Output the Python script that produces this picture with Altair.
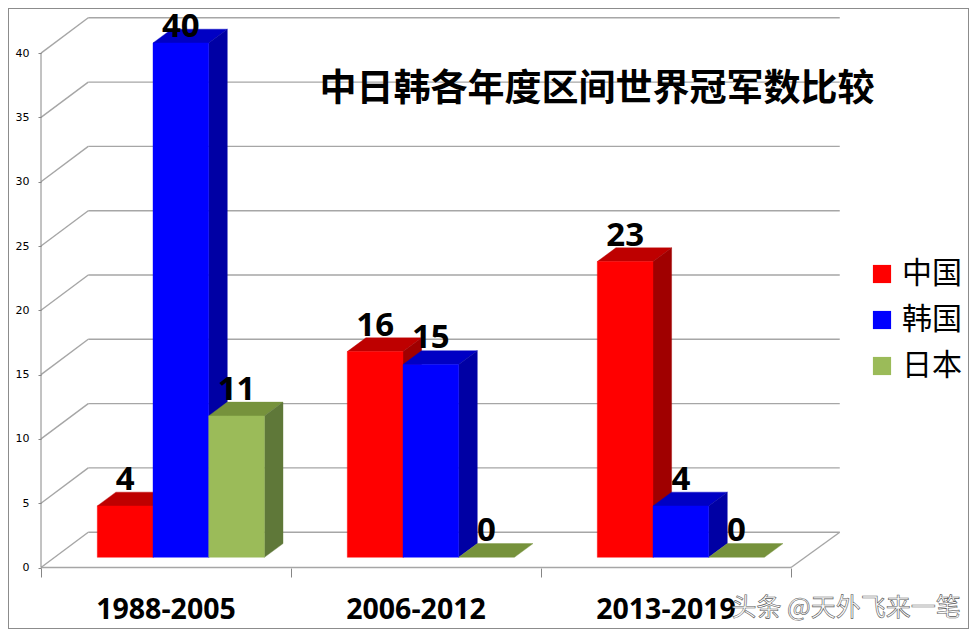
import altair as alt
import pandas as pd

# --- values ---
periods = ["1988-2005", "2006-2012", "2013-2019"]
series = ["中国", "韩国", "日本"]
china = [4, 16, 23]
korea = [40, 15, 4]
japan = [11, 0, 0]
y_ticks = [0, 5, 10, 15, 20, 25, 30, 35, 40]
x_ticks = [0, 1, 2, 3]
title_text = "中日韩各年度区间世界冠军数比较"
watermark = "头条 @天外飞来一笔"

front_colors = ["#FF0000", "#0000FF", "#9BBB59"]
top_colors = ["#BE0000", "#0000C4", "#76923C"]
side_colors = ["#A00000", "#0000A4", "#5F7839"]

# --- fake-3D geometry, in data units (1 period = 250 px, 1 value = 12.86 px) ---
W, H = 961, 621
PX_X, PX_Y = 250.0, 12.86
U_MIN = (8 - 41) / PX_X
U_MAX = U_MIN + W / PX_X
V_MAX = (567.5 - 8) / PX_Y
V_MIN = V_MAX - H / PX_Y

BAR_START = 0.2252
BAR_W = 0.2228
BASE = 0.79          # floor position of the bars on the value scale
DU = 0.0744          # depth of a bar
DV = 1.07
WALL_U = 0.189       # depth of the back wall, left end
WALL_U_R = 0.195     # depth of the back wall, right end
WALL_V = 2.745

faces = []
labels = []
face_id = 0


def add_face(pts, fill):
    global face_id
    for u, lo, hi in pts:
        faces.append(dict(face=f"{face_id:03d}", u=u, lo=lo, hi=hi, fill=fill))
    face_id += 1


for s_i, vals in enumerate([china, korea, japan]):
    for p_i, val in enumerate(vals):
        x0 = p_i + BAR_START + s_i * BAR_W
        x1 = x0 + BAR_W
        top = BASE + val
        add_face([(x0, top, top), (x0 + DU, top, top + DV),
                  (x1, top, top + DV), (x1 + DU, top + DV, top + DV)],
                 top_colors[s_i])
        if val > 0:
            add_face([(x1, BASE, top), (x1 + DU, BASE + DV, top + DV)], side_colors[s_i])
            add_face([(x0, BASE, top), (x1, BASE, top)], front_colors[s_i])
        labels.append(dict(u=(x0 + x1) / 2, v=min(top + 1.24, 41.25), t=str(val)))

faces_df = pd.DataFrame(faces)
labels_df = pd.DataFrame(labels)

x_scale = alt.Scale(domain=[U_MIN, U_MAX], nice=False, zero=False)
y_scale = alt.Scale(domain=[V_MIN, V_MAX], nice=False, zero=False)
X = alt.X("u:Q", scale=x_scale, title=None, axis=None)
Y = alt.Y("v:Q", scale=y_scale, title=None, axis=None)

# --- wall and floor lines ---
grid_rows = []
for t in y_ticks:
    grid_rows.append(dict(u=WALL_U, u2=3 + WALL_U_R, v=t + WALL_V, v2=t + WALL_V))
    grid_rows.append(dict(u=0, u2=WALL_U, v=t, v2=t + WALL_V))
grid_rows.append(dict(u=3, u2=3 + WALL_U_R, v=0, v2=WALL_V))
grid_rows.append(dict(u=0, u2=3, v=0, v2=0))
grid = alt.Chart(pd.DataFrame(grid_rows)).mark_rule(color="#A6A6A6", strokeWidth=1.4).encode(
    x=X, x2="u2:Q", y=Y, y2="v2:Q"
)

y_line = alt.Chart(pd.DataFrame({"u": [0], "v": [0], "v2": [40]})).mark_rule(
    color="#868686", strokeWidth=1
).encode(x=X, y=Y, y2="v2:Q")

# --- real axes, shifted onto the front plane ---
axes = alt.Chart(pd.DataFrame({"u": x_ticks, "v": [0] * len(x_ticks)})).mark_point(opacity=0).encode(
    x=alt.X("u:Q", scale=x_scale, title=None,
            axis=alt.Axis(values=x_ticks, labels=False, grid=False, domain=False,
                          orient="bottom", offset=-(8 + H - 568), tickSize=9,
                          tickColor="#868686")),
    y=alt.Y("v:Q", scale=y_scale, title=None,
            axis=alt.Axis(values=y_ticks, grid=False, domain=False, orient="left",
                          offset=-(41 - 8), tickSize=3, tickColor="#868686",
                          labelPadding=9, labelFont="DejaVu Sans", labelFontSize=11,
                          labelColor="#000000")),
)

# --- bars ---
bars = alt.Chart(faces_df).mark_area(interpolate="linear", line=False, strokeWidth=0.4).encode(
    x=alt.X("u:Q", scale=x_scale, title=None, axis=None),
    y=alt.Y("lo:Q", scale=y_scale, title=None, axis=None, stack=None),
    y2="hi:Q",
    fill=alt.Fill("fill:N", scale=None),
    stroke=alt.Stroke("fill:N", scale=None),
    detail="face:N",
)

value_labels = alt.Chart(labels_df).mark_text(
    font="Open Sans", fontWeight="bold", fontSize=33, baseline="alphabetic", align="center",
    color="#000000",
).encode(x=X, y=Y, text="t:N")

cat_labels = alt.Chart(pd.DataFrame({
    "u": [i + 0.5 for i in range(len(periods))],
    "v": [-3.97] * len(periods),
    "t": periods,
})).mark_text(
    font="Open Sans", fontWeight="bold", fontSize=28.5, baseline="alphabetic", align="center",
    color="#000000",
).encode(x=X, y=Y, text="t:N")

title = alt.Chart(pd.DataFrame({"u": [2.224], "v": [37.14], "t": [title_text]})).mark_text(
    font="Noto Sans CJK SC", fontWeight="bold", fontSize=37, baseline="middle", align="center",
    color="#000000",
).encode(x=X, y=Y, text="t:N")

mark = alt.Chart(pd.DataFrame({"u": [3.22], "v": [-3.15], "t": [watermark]})).mark_text(
    font="Noto Sans CJK SC", fontSize=25, baseline="middle", align="center",
    fill="#FFFFFF", stroke="#5A5A5A", strokeWidth=0.6,
).encode(x=X, y=Y, text="t:N")

# --- legend, carried by an empty layer ---
legend_layer = alt.Chart(pd.DataFrame({"u": [0, 0, 0], "v": [0, 0, 0], "s": series})).mark_square(
    size=0
).encode(
    x=X, y=Y,
    color=alt.Color("s:N", scale=alt.Scale(domain=series, range=front_colors), legend=alt.Legend(
        title=None, orient="none", legendX=859, legendY=251, symbolType="square",
        symbolSize=330, symbolStrokeWidth=0, symbolOpacity=1, labelFont="Noto Sans CJK SC",
        labelFontSize=30, labelColor="#000000", labelOffset=5, rowPadding=16,
    )),
)

chart = alt.layer(grid, axes, y_line, bars, value_labels, cat_labels, title, mark, legend_layer).resolve_scale(
    fill="independent", stroke="independent", color="independent"
).resolve_axis(x="independent", y="independent").properties(
    width=W, height=H, padding=0, autosize=alt.AutoSizeParams(type="none"),
    background="#FFFFFF",
).configure_view(stroke="#8C8C8C", strokeWidth=2)

chart.save("out.html", embed_options={"renderer": "svg", "actions": False})
